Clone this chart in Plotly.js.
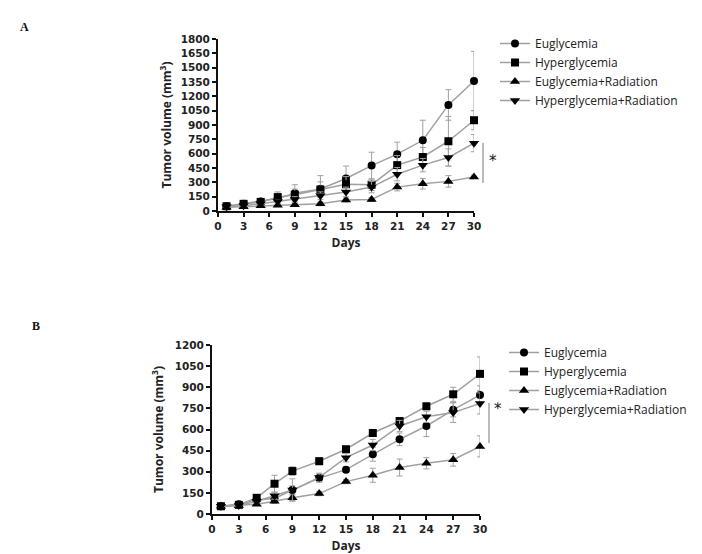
<!DOCTYPE html>
<html>
<head>
<meta charset="utf-8">
<script src="https://cdn.plot.ly/plotly-3.0.1.min.js"></script>
<style>html,body{margin:0;padding:0;background:#fff;}#chart{width:702px;height:554px;}</style>
</head>
<body>
<div id="chart"></div>
<script>
const days = [1, 3, 5, 7, 9, 12, 15, 18, 21, 24, 27, 30];
const seriesNames = ["Euglycemia", "Hyperglycemia", "Euglycemia+Radiation", "Hyperglycemia+Radiation"];
const symbols = ["circle", "square", "triangle-up", "triangle-down"];

// Panel A
const aEugly = [50, 75, 100, 130, 185, 230, 340, 475, 595, 740, 1110, 1360];
const aHyper = [50, 75, 95, 145, 170, 225, 280, 275, 480, 565, 730, 950];
const aEuglyRad = [40, 45, 55, 60, 65, 75, 115, 120, 250, 285, 310, 355];
const aHyperRad = [45, 55, 75, 100, 120, 160, 200, 250, 385, 480, 560, 710];
const aEuglyErr = [5, 10, 15, 70, 90, 140, 130, 140, 125, 210, 160, 310];
const aHyperErr = [5, 10, 10, 40, 60, 80, 80, 60, 100, 100, 260, 100];
const aEuglyRadErr = [5, 5, 5, 10, 15, 20, 20, 20, 40, 55, 60, 20];
const aHyperRadErr = [5, 5, 10, 20, 30, 40, 50, 60, 70, 70, 90, 90];

// Panel B
const bEugly = [55, 70, 100, 110, 170, 255, 315, 425, 530, 625, 740, 845];
const bHyper = [55, 65, 115, 215, 305, 375, 460, 575, 660, 765, 850, 995];
const bEuglyRad = [55, 60, 70, 90, 115, 145, 230, 275, 330, 360, 385, 480];
const bHyperRad = [55, 60, 90, 130, 170, 260, 400, 490, 625, 690, 720, 785];
const bEuglyErr = [5, 5, 10, 15, 30, 30, 20, 50, 45, 75, 50, 65];
const bHyperErr = [5, 5, 15, 60, 30, 25, 20, 25, 20, 20, 50, 120];
const bEuglyRadErr = [5, 5, 5, 15, 20, 15, 15, 50, 60, 40, 45, 75];
const bHyperRadErr = [5, 5, 10, 25, 80, 30, 30, 40, 40, 40, 70, 75];

const aTicks = [0,150,300,450,600,750,900,1050,1200,1350,1500,1650,1800];
const bTicks = [0,150,300,450,600,750,900,1050,1200];
const xTicks = [0,3,6,9,12,15,18,21,24,27,30];

const W = 702, H = 554;
const px = v => v / W;
const py = v => 1 - v / H;

function mk(y, err, i, xa, ya, leg) {
  return {
    x: days, y: y, type: "scatter", mode: "lines+markers",
    name: seriesNames[i], xaxis: xa, yaxis: ya, legend: leg,
    line: {color: "#a0a0a0", width: 1.5},
    marker: {symbol: symbols[i], color: "#000", size: i >= 2 ? 9 : 8},
    error_y: {type: "data", array: err, visible: true, color: "#a0a0a0", thickness: 1, width: 3},
    cliponaxis: false
  };
}

const data = [
  mk(aEugly, aEuglyErr, 0, "x", "y", "legend"),
  mk(aHyper, aHyperErr, 1, "x", "y", "legend"),
  mk(aEuglyRad, aEuglyRadErr, 2, "x", "y", "legend"),
  mk(aHyperRad, aHyperRadErr, 3, "x", "y", "legend"),
  mk(bEugly, bEuglyErr, 0, "x2", "y2", "legend2"),
  mk(bHyper, bHyperErr, 1, "x2", "y2", "legend2"),
  mk(bEuglyRad, bEuglyRadErr, 2, "x2", "y2", "legend2"),
  mk(bHyperRad, bHyperRadErr, 3, "x2", "y2", "legend2")
];

const tickFont = {family: "DejaVu Sans, sans-serif", size: 10.5, color: "#222", weight: "bold"};
const titleFont = {family: "Open Sans, sans-serif", size: 12, color: "#222", weight: "bold"};

function xax(dom, anchor) {
  return {
    domain: dom, anchor: anchor, range: [0, 30], tickvals: xTicks,
    showline: true, linecolor: "#111", linewidth: 2, ticks: "outside", ticklen: 4, tickwidth: 2, tickcolor: "#111",
    showgrid: false, zeroline: false, tickfont: tickFont,
    title: {text: "Days", font: titleFont, standoff: 8}, automargin: false, fixedrange: true
  };
}
function yax(dom, anchor, max, ticks, standoff) {
  return {
    domain: dom, anchor: anchor, range: [0, max], tickvals: ticks,
    showline: true, linecolor: "#111", linewidth: 2, ticks: "outside", ticklen: 4, tickwidth: 2, tickcolor: "#111",
    showgrid: false, zeroline: false, tickfont: tickFont,
    title: {text: "Tumor volume (mm<sup>3</sup>)", font: titleFont, standoff: standoff}, automargin: false, fixedrange: true
  };
}

const legFont = {family: "Open Sans, sans-serif", size: 12, color: "#222"};

const layout = {
  width: W, height: H,
  margin: {l: 0, r: 0, t: 0, b: 0},
  paper_bgcolor: "#fff", plot_bgcolor: "#fff",
  showlegend: true,
  xaxis: xax([px(218), px(474)], "y"),
  yaxis: yax([py(211), py(39)], "x", 1800, aTicks, 6),
  xaxis2: xax([px(212), px(480)], "y2"),
  yaxis2: yax([py(514), py(345)], "x2", 1200, bTicks, 8),
  legend: {x: px(495), y: py(29), xanchor: "left", yanchor: "top", font: legFont, bgcolor: "rgba(0,0,0,0)", tracegroupgap: 0, itemwidth: 30},
  legend2: {x: px(504), y: py(338), xanchor: "left", yanchor: "top", font: legFont, bgcolor: "rgba(0,0,0,0)", tracegroupgap: 0, itemwidth: 30},
  shapes: [
    {type: "line", xref: "paper", yref: "paper", x0: px(483), x1: px(483), y0: py(143), y1: py(183), line: {color: "#777", width: 1}},
    {type: "line", xref: "paper", yref: "paper", x0: px(489), x1: px(489), y0: py(403), y1: py(443), line: {color: "#777", width: 1}}
  ],
  annotations: [
    {text: "*", xref: "paper", yref: "paper", x: px(493), y: py(161), xanchor: "center", yanchor: "middle", showarrow: false, font: {family: "DejaVu Sans, sans-serif", size: 15, color: "#111"}},
    {text: "*", xref: "paper", yref: "paper", x: px(498), y: py(409), xanchor: "center", yanchor: "middle", showarrow: false, font: {family: "DejaVu Sans, sans-serif", size: 15, color: "#111"}},
    {text: "<b>A</b>", xref: "paper", yref: "paper", x: px(18), y: py(18), showarrow: false, font: {family: "Liberation Serif, serif", size: 12, color: "#111"}},
    {text: "<b>B</b>", xref: "paper", yref: "paper", x: px(30), y: py(326), showarrow: false, font: {family: "Liberation Serif, serif", size: 12, color: "#111"}}
  ]
};

Plotly.newPlot("chart", data, layout, {displayModeBar: false, staticPlot: true});
</script>
</body>
</html>
